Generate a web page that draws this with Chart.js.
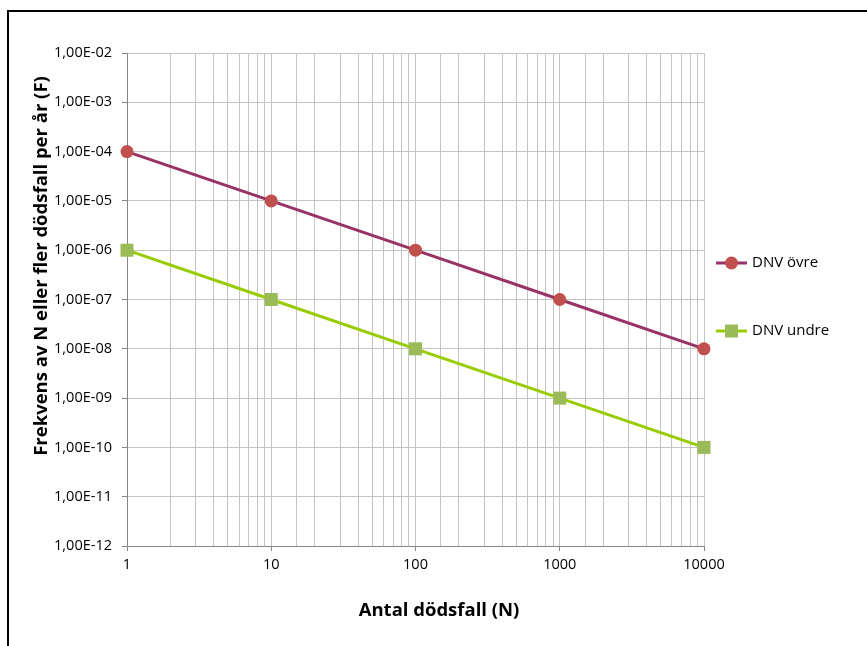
<!DOCTYPE html>
<html>
<head>
<meta charset="utf-8">
<script src="https://cdn.jsdelivr.net/npm/chart.js@4"></script>
<style>
  html, body { margin: 0; padding: 0; background: #fff; }
  #wrap { width: 867px; height: 646px; }
</style>
</head>
<body>
<div id="wrap"><canvas id="fnChart" width="867" height="646"></canvas></div>
<script>
// values
const deaths = [1, 10, 100, 1000, 10000];
const dnvUpper = [1e-4, 1e-5, 1e-6, 1e-7, 1e-8];
const dnvLower = [1e-6, 1e-7, 1e-8, 1e-9, 1e-10];
const xTicks = [1, 10, 100, 1000, 10000];
const yTicks = [1e-12, 1e-11, 1e-10, 1e-9, 1e-8, 1e-7, 1e-6, 1e-5, 1e-4, 1e-3, 1e-2];
const seriesNames = ['DNV övre', 'DNV undre'];

const FONT = "'Open Sans', 'Noto Sans', sans-serif";

function sciLabel(v) {
  const e = Math.round(Math.log10(v));
  const s = Math.abs(e) < 10 ? '0' + Math.abs(e) : String(Math.abs(e));
  return '1,00E' + (e < 0 ? '-' : '+') + s;
}
function isDecade(v) {
  return xTicks.some(t => Math.abs(t - v) < 1e-9);
}

// black frame around the picture (top + left only, rest is cut off)
const framePlugin = {
  id: 'frame',
  afterDraw(chart) {
    const c = chart.ctx;
    c.save();
    c.fillStyle = '#000';
    c.fillRect(7, 10, 860, 2);
    c.fillRect(7, 10, 2, 636);
    c.restore();
  }
};

// axis titles drawn where excel put them
const titlePlugin = {
  id: 'axisTitles',
  afterDraw(chart) {
    const c = chart.ctx;
    c.save();
    c.fillStyle = '#000';
    c.font = 'bold 18.5px ' + FONT;
    c.textAlign = 'center';
    c.textBaseline = 'middle';
    c.fillText('Antal dödsfall (N)', 439, 611);
    c.translate(42, 266);
    c.rotate(-Math.PI / 2);
    c.fillText('Frekvens av N eller fler dödsfall per år (F)', 0, 0);
    c.restore();
  }
};

// legend on the right with line + marker
const legendPlugin = {
  id: 'sideLegend',
  afterDraw(chart) {
    const c = chart.ctx;
    const rows = [263, 331];
    chart.data.datasets.forEach((ds, i) => {
      const y = rows[i];
      c.save();
      c.strokeStyle = ds.borderColor;
      c.lineWidth = 3;
      c.beginPath();
      c.moveTo(716, y);
      c.lineTo(747, y);
      c.stroke();
      c.fillStyle = ds.pointBackgroundColor;
      if (ds.pointStyle === 'rect') {
        c.fillRect(725, y - 6.5, 13, 13);
      } else {
        c.beginPath();
        c.arc(731.5, y, 6.5, 0, Math.PI * 2);
        c.fill();
      }
      c.fillStyle = '#000';
      c.font = '15px ' + FONT;
      c.textAlign = 'left';
      c.textBaseline = 'middle';
      c.fillText(ds.label, 752, y);
      c.restore();
    });
  }
};

const ctx = document.getElementById('fnChart').getContext('2d');

const fnChart = new Chart(ctx, {
  type: 'line',
  data: {
    datasets: [
      {
        label: seriesNames[0],
        data: deaths.map((n, i) => ({ x: n, y: dnvUpper[i] })),
        borderColor: '#993366',
        borderWidth: 3,
        pointStyle: 'circle',
        pointRadius: 6.5,
        pointBorderWidth: 0,
        pointBackgroundColor: '#C0504D',
        pointBorderColor: '#C0504D',
        tension: 0,
        clip: false,
        fill: false
      },
      {
        label: seriesNames[1],
        data: deaths.map((n, i) => ({ x: n, y: dnvLower[i] })),
        borderColor: '#99CC00',
        borderWidth: 3,
        pointStyle: 'rect',
        pointRadius: 9.2,
        pointBorderWidth: 0,
        pointBackgroundColor: '#9BBB59',
        pointBorderColor: '#9BBB59',
        tension: 0,
        clip: false,
        fill: false
      }
    ]
  },
  options: {
    responsive: false,
    animation: false,
    layout: {
      padding: { left: 0, right: 163, top: 53, bottom: 0 }
    },
    plugins: {
      legend: { display: false },
      tooltip: { enabled: false }
    },
    scales: {
      x: {
        type: 'logarithmic',
        min: 1,
        max: 10000,
        afterFit: (scale) => { scale.height = 100; },
        border: { color: '#868686', width: 1 },
        grid: {
          color: '#c4c4c4',
          lineWidth: 1,
          tickLength: 5,
          tickColor: (c) => (c.tick && isDecade(c.tick.value) ? '#868686' : 'rgba(0,0,0,0)')
        },
        ticks: {
          autoSkip: false,
          maxRotation: 0,
          padding: 5,
          color: '#000',
          font: { family: FONT, size: 14.5 },
          callback: (v) => (isDecade(v) ? String(v) : '')
        }
      },
      y: {
        type: 'logarithmic',
        min: 1e-12,
        max: 1e-2,
        afterFit: (scale) => { scale.width = 127; },
        afterBuildTicks: (scale) => {
          scale.ticks = yTicks.map(v => ({ value: v }));
        },
        border: { color: '#868686', width: 1 },
        grid: {
          color: '#c4c4c4',
          lineWidth: 1,
          tickLength: 5,
          tickColor: '#868686'
        },
        ticks: {
          autoSkip: false,
          padding: 10,
          color: '#000',
          font: { family: FONT, size: 14.5 },
          callback: (v) => sciLabel(v)
        }
      }
    }
  },
  plugins: [framePlugin, titlePlugin, legendPlugin]
});
</script>
</body>
</html>
